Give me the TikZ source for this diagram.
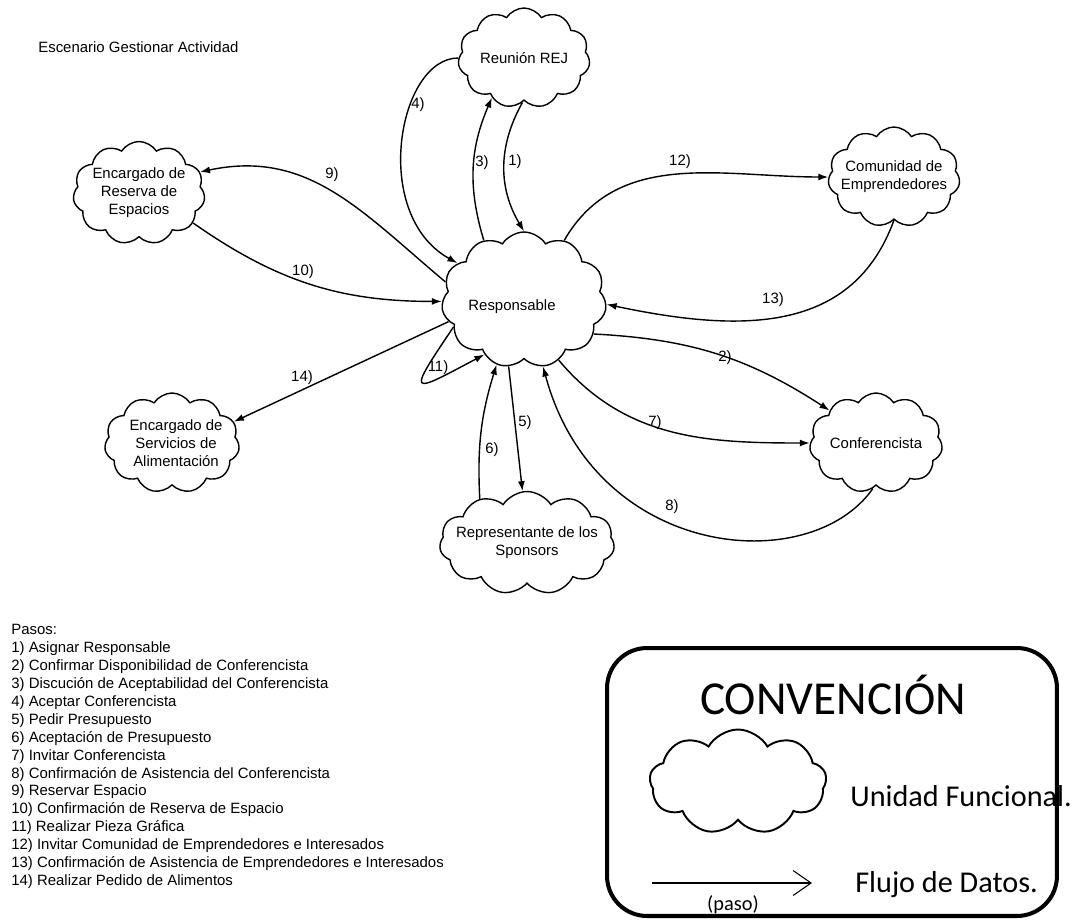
\documentclass[tikz,border=0pt]{standalone}
\usepackage{fontspec}
\setmainfont{Liberation Sans}
\newfontfamily\legendfont{Carlito}
\usetikzlibrary{shapes.symbols, arrows.meta}

\newcommand\diagtext{\fontsize{8.5}{10.2}\selectfont}

\begin{document}
\begin{tikzpicture}[x=0.02cm, y=0.02cm,
  unit/.style={cloud, cloud puffs=11, cloud puff arc=115, cloud ignores aspect,
    draw, line width=0.8pt, inner sep=0pt},
  inlabel/.style={font=\diagtext, align=center},
  flow/.style={line width=0.8pt, -{Latex[length=0.2cm,width=0.14cm]}},
  lbl/.style={font=\diagtext, inner sep=0pt},
  legendtext/.style={font=\legendfont, inner sep=0pt}]
\useasboundingbox (0,0) rectangle (1090,-920);

% title
\node[lbl, anchor=west] (title) at (38,-47) {Escenario Gestionar Actividad};

% functional units
\node[unit, minimum width=2.64cm, minimum height=2cm,
  label={[inlabel]center:Reuni\'on REJ}] (reu) at (524,-58) {};
\node[unit, minimum width=2.64cm, minimum height=2.06cm,
  label={[inlabel]center:Encargado de\\Reserva de\\Espacios}] (res) at (139,-193) {};
\node[unit, minimum width=2.64cm, minimum height=2cm,
  label={[inlabel]center:Comunidad de\\Emprendedores}] (com) at (894,-177) {};
\node[unit, minimum width=3.3cm, minimum height=2.72cm,
  label={[inlabel, xshift=-0.24cm, yshift=-0.14cm]center:Responsable}] (resp) at (524,-300) {};
\node[unit, minimum width=2.66cm, minimum height=2cm,
  label={[inlabel]center:Conferencista}] (conf) at (876,-443) {};
\node[unit, minimum width=2.7cm, minimum height=2cm,
  label={[inlabel, xshift=0.08cm]center:Encargado de\\Servicios de\\Alimentaci\'on}] (ali) at (172,-443) {};
\node[unit, minimum width=3.5cm, minimum height=2.06cm,
  label={[inlabel]center:Representante de los\\Sponsors}] (spo) at (527,-543) {};

% data flows
\draw[flow] (reu.268) to[bend right=30] (resp.90);
\draw[flow] (resp.124) to[bend left=20] (reu.231);
\draw[flow] (reu.180) to[out=180, in=151, out distance=1.2cm, in distance=2cm] (resp.151);
\draw[flow] (resp.167) to[out=140, in=12, looseness=1.05] (res.19);
\draw[flow] (res.331) to[out=-35, in=180] (resp.181);
\draw[flow] (resp.196) -- (ali.19);
\draw[flow] (resp.201) to[out=236, in=208, out distance=1.7cm, in distance=1.7cm] (resp.234);
\draw[flow] (resp.56) to[out=60, in=180] (com.180);
\draw[flow] (com.270) to[out=250, in=-12, out distance=2.4cm, in distance=2.8cm] (resp.357);
\draw[flow] (resp.334) to[bend left=15] (conf.145);
\draw[flow] (resp.300) to[out=-50, in=180] (conf.180);
\draw[flow] (conf.266) to[out=235, in=285, out distance=2.2cm, in distance=4cm] (resp.286);
\draw[flow] (resp.257) -- (spo.95);
\draw[flow] (spo.137) to[bend left=10] (resp.247);

% step numbers
\node[lbl] (l1) at (515,-162) {1)};
\node[lbl] (l2) at (725,-358) {2)};
\node[lbl] (l3) at (482,-163) {3)};
\node[lbl] (l4) at (418,-105) {4)};
\node[lbl] (l5) at (525,-423) {5)};
\node[lbl] (l6) at (492,-450) {6)};
\node[lbl] (l7) at (655,-423) {7)};
\node[lbl] (l8) at (672,-507) {8)};
\node[lbl] (l9) at (332,-175) {9)};
\node[lbl] (l10) at (303,-272) {10)};
\node[lbl] (l11) at (438,-368) {11)};
\node[lbl] (l12) at (680,-162) {12)};
\node[lbl] (l13) at (773,-300) {13)};
\node[lbl] (l14) at (302,-378) {14)};

% list of steps
\node[lbl, anchor=north west, align=left] (pasos) at (11,-624) {Pasos:\\
1) Asignar Responsable\\
2) Confirmar Disponibilidad de Conferencista\\
3) Discuci\'on de Aceptabilidad del Conferencista\\
4) Aceptar Conferencista\\
5) Pedir Presupuesto\\
6) Aceptaci\'on de Presupuesto\\
7) Invitar Conferencista\\
8) Confirmaci\'on de Asistencia del Conferencista\\
9) Reservar Espacio\\
10) Confirmaci\'on de Reserva de Espacio\\
11) Realizar Pieza Gr\'afica\\
12) Invitar Comunidad de Emprendedores e Interesados\\
13) Confirmaci\'on de Asistencia de Emprendedores e Interesados\\
14) Realizar Pedido de Alimentos};

% legend
\node[draw, line width=2.3pt, rounded corners=0.8cm, minimum width=9cm,
  minimum height=5.36cm] (legend) at (832,-782) {};
\node[legendtext, font=\legendfont\fontsize{26.9}{30}\selectfont, anchor=base]
  (convtitle) at (833,-714) {CONVENCI\'ON};
\node[cloud, cloud puffs=9, cloud puff arc=120, cloud ignores aspect, draw,
  line width=1.1pt, minimum width=3.54cm, minimum height=2.1cm] (legcloud) at (738,-782) {};
\node[legendtext, font=\legendfont\fontsize{17.2}{20}\selectfont, anchor=base west]
  (unitext) at (850,-806) {Unidad Funcional.};
\coordinate (flowA) at (652,-883);
\coordinate (flowB) at (812,-883);
\draw[line width=0.6pt, -{Straight Barb[length=0.36cm,width=0.5cm]}] (flowA) -- (flowB);
\node[legendtext, font=\legendfont\fontsize{17.2}{20}\selectfont, anchor=base west]
  (flowtext) at (855,-892) {Flujo de Datos.};
\node[legendtext, font=\legendfont\fontsize{11.6}{14}\selectfont, anchor=base]
  (paso) at (733,-910) {(paso)};
\end{tikzpicture}
\end{document}
